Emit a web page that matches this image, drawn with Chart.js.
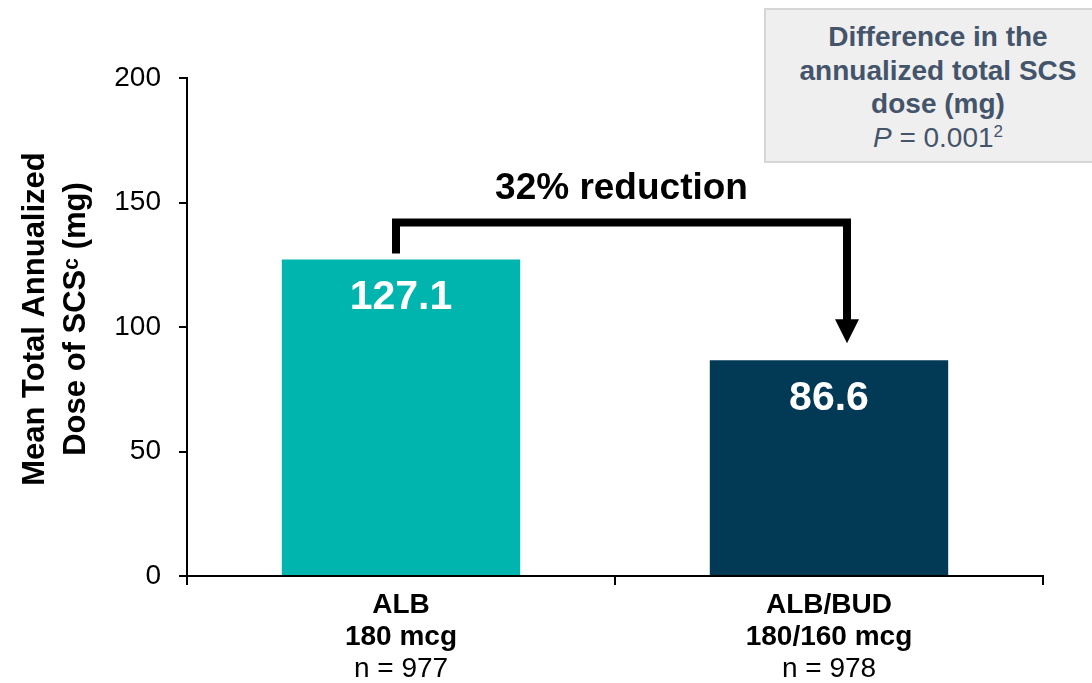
<!DOCTYPE html>
<html>
<head>
<meta charset="utf-8">
<script src="https://cdn.jsdelivr.net/npm/chart.js@4.4.1/dist/chart.umd.min.js"></script>
<style>
  html, body { margin: 0; padding: 0; background: #fff; overflow: hidden; }
  #wrap { position: relative; width: 1092px; height: 683px; }
  #note {
    position: absolute; left: 764px; top: 8px; width: 348px; height: 155px;
    box-sizing: border-box; background: #efefef; border: 2px solid #d6d6d6;
    font-family: 'Liberation Sans', Arial, sans-serif; color: #44546a;
    text-align: center; padding-top: 10px; font-size: 28px; line-height: 33.5px;
  }
  #note b { display: block; }
  #note sup { font-size: 17px; vertical-align: 0; position: relative; top: -10px; }
</style>
</head>
<body>
<div id="wrap">
  <canvas id="scsChart" width="1092" height="683"></canvas>
  <div id="note"><b>Difference in the<br>annualized total SCS<br>dose (mg)</b><i>P</i> = 0.001<sup>2</sup></div>
</div>
<script>
const categories = [['ALB', '180 mcg'], ['ALB/BUD', '180/160 mcg']];
const nLabels = ['n = 977', 'n = 978'];
const doseValues = [127.1, 86.6];
const barColors = ['#00b5ad', '#023a56'];
const yTicks = [0, 50, 100, 150, 200];
const reductionText = '32% reduction';
const yTitle = ['Mean Total Annualized', 'Dose of SCS\u1D9C (mg)'];

const FONT = "'Liberation Sans', Arial, sans-serif";

const extras = {
  id: 'extras',
  afterDatasetsDraw(chart) {
    const ctx = chart.ctx;
    const bars = chart.getDatasetMeta(0).data;
    const xScale = chart.scales.x;

    // values inside the bars
    ctx.save();
    ctx.fillStyle = '#ffffff';
    ctx.font = 'bold 41px ' + FONT;
    ctx.textAlign = 'center';
    ctx.textBaseline = 'middle';
    bars.forEach((bar, i) => {
      ctx.fillText(doseValues[i].toFixed(1), bar.x, bar.y + 38);
    });
    ctx.restore();

    // bracket with arrow
    const b1 = bars[0], b2 = bars[1];
    const xl = b1.x - 5, xr = b2.x + 18;
    const yTop = b1.y - 37;
    const tipY = b2.y - 17;
    ctx.save();
    ctx.strokeStyle = '#000';
    ctx.lineWidth = 8;
    ctx.lineJoin = 'miter';
    ctx.beginPath();
    ctx.moveTo(xl, b1.y - 6);
    ctx.lineTo(xl, yTop);
    ctx.lineTo(xr, yTop);
    ctx.lineTo(xr, tipY - 22);
    ctx.stroke();
    ctx.fillStyle = '#000';
    ctx.beginPath();
    ctx.moveTo(xr - 12, tipY - 24);
    ctx.lineTo(xr + 12, tipY - 24);
    ctx.lineTo(xr, tipY);
    ctx.closePath();
    ctx.fill();

    ctx.font = 'bold 37px ' + FONT;
    ctx.textAlign = 'center';
    ctx.textBaseline = 'middle';
    ctx.fillText(reductionText, (xl + xr) / 2, yTop - 34);
    ctx.restore();

    // x labels
    ctx.save();
    ctx.fillStyle = '#000';
    ctx.textAlign = 'center';
    ctx.textBaseline = 'middle';
    categories.forEach((lines, i) => {
      const x = xScale.getPixelForValue(i);
      ctx.font = 'bold 28px ' + FONT;
      ctx.fillText(lines[0], x, 605);
      ctx.fillText(lines[1], x, 637);
      ctx.font = '28px ' + FONT;
      ctx.fillText(nLabels[i], x, 669);
    });
    ctx.restore();

    // y title
    ctx.save();
    ctx.fillStyle = '#000';
    ctx.font = 'bold 31px ' + FONT;
    ctx.textAlign = 'center';
    ctx.textBaseline = 'middle';
    const cy = (chart.chartArea.top + chart.chartArea.bottom) / 2 - 8;
    ctx.translate(35, cy);
    ctx.rotate(-Math.PI / 2);
    ctx.fillText(yTitle[0], 0, 0);
    ctx.fillText(yTitle[1], 0, 41);
    ctx.restore();
  }
};

new Chart(document.getElementById('scsChart'), {
  type: 'bar',
  data: {
    labels: categories.map(c => c.join(' ')),
    datasets: [{
      data: doseValues,
      backgroundColor: barColors,
      borderWidth: 0,
      categoryPercentage: 1,
      barPercentage: 0.557
    }]
  },
  options: {
    responsive: false,
    animation: false,
    layout: { padding: { top: 78, right: 49, left: 0, bottom: 0 } },
    plugins: {
      legend: { display: false },
      tooltip: { enabled: false }
    },
    scales: {
      y: {
        min: 0,
        max: 200,
        afterBuildTicks: s => { s.ticks = yTicks.map(v => ({ value: v })); },
        afterFit: s => { s.width = 187; },
        ticks: { color: '#000', padding: 18, font: { family: FONT, size: 28 } },
        grid: { drawOnChartArea: false, drawTicks: true, tickLength: 8, color: '#000', lineWidth: 2 },
        border: { display: true, color: '#000', width: 2 }
      },
      x: {
        afterFit: s => { s.height = 107; },
        ticks: { display: false },
        grid: { drawOnChartArea: false, drawTicks: true, tickLength: 9, color: '#000', lineWidth: 2, offset: true },
        border: { display: true, color: '#000', width: 2 }
      }
    }
  },
  plugins: [extras]
});
</script>
</body>
</html>
